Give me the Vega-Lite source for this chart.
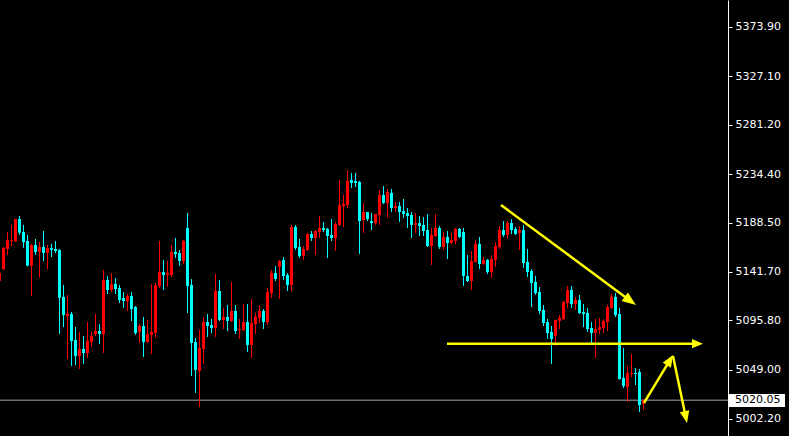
{
  "$schema": "https://vega.github.io/schema/vega-lite/v6.json",
  "width": 728,
  "height": 436,
  "autosize": "none",
  "padding": {"left": 0, "top": 0, "right": 61, "bottom": 0},
  "background": "#000000",
  "config": {"view": {"stroke": null}},
  "datasets": {
    "candles": [
      {"i":-1,"o":5133.1,"h":5143.5,"l":5130.2,"c":5140.6},
      {"i":0,"o":5144.2,"h":5165.3,"l":5143.5,"c":5164.6},
      {"i":1,"o":5163.4,"h":5179.5,"l":5157.7,"c":5171.9},
      {"i":2,"o":5171.0,"h":5186.2,"l":5166.2,"c":5171.9},
      {"i":3,"o":5171.0,"h":5191.8,"l":5170.0,"c":5191.8},
      {"i":4,"o":5191.8,"h":5194.7,"l":5176.7,"c":5178.9},
      {"i":5,"o":5179.5,"h":5186.2,"l":5164.6,"c":5170.0},
      {"i":6,"o":5171.0,"h":5176.7,"l":5147.0,"c":5147.6},
      {"i":7,"o":5147.6,"h":5168.1,"l":5118.8,"c":5167.2},
      {"i":8,"o":5167.2,"h":5172.9,"l":5157.7,"c":5160.6},
      {"i":9,"o":5160.6,"h":5170.0,"l":5136.2,"c":5165.3},
      {"i":10,"o":5165.3,"h":5180.5,"l":5152.0,"c":5159.6},
      {"i":11,"o":5159.6,"h":5167.2,"l":5144.4,"c":5164.3},
      {"i":12,"o":5164.3,"h":5168.1,"l":5155.8,"c":5162.5},
      {"i":13,"o":5163.4,"h":5171.0,"l":5159.6,"c":5161.5},
      {"i":14,"o":5162.5,"h":5163.4,"l":5082.8,"c":5117.2},
      {"i":15,"o":5117.9,"h":5129.3,"l":5089.4,"c":5100.8},
      {"i":16,"o":5099.9,"h":5119.8,"l":5059.1,"c":5101.8},
      {"i":17,"o":5101.8,"h":5103.7,"l":5052.5,"c":5076.2},
      {"i":18,"o":5077.1,"h":5089.4,"l":5053.4,"c":5061.9},
      {"i":19,"o":5061.9,"h":5084.7,"l":5049.6,"c":5068.6},
      {"i":20,"o":5068.6,"h":5080.9,"l":5054.4,"c":5064.8},
      {"i":21,"o":5064.8,"h":5094.2,"l":5060.0,"c":5076.2},
      {"i":22,"o":5075.2,"h":5084.7,"l":5070.5,"c":5080.9},
      {"i":23,"o":5082.8,"h":5101.8,"l":5080.9,"c":5085.6},
      {"i":24,"o":5085.6,"h":5092.3,"l":5073.3,"c":5082.8},
      {"i":25,"o":5082.8,"h":5143.5,"l":5064.8,"c":5134.0},
      {"i":26,"o":5134.0,"h":5137.8,"l":5120.7,"c":5124.5},
      {"i":27,"o":5124.5,"h":5140.6,"l":5122.6,"c":5130.2},
      {"i":28,"o":5130.2,"h":5135.9,"l":5120.7,"c":5125.5},
      {"i":29,"o":5126.4,"h":5129.3,"l":5112.2,"c":5115.0},
      {"i":30,"o":5116.9,"h":5122.6,"l":5107.5,"c":5114.1},
      {"i":31,"o":5114.1,"h":5120.7,"l":5104.6,"c":5118.8},
      {"i":32,"o":5118.8,"h":5122.6,"l":5095.1,"c":5106.5},
      {"i":33,"o":5108.4,"h":5109.3,"l":5081.9,"c":5083.7},
      {"i":34,"o":5084.7,"h":5092.3,"l":5074.3,"c":5090.4},
      {"i":35,"o":5090.4,"h":5098.9,"l":5061.0,"c":5075.2},
      {"i":36,"o":5075.2,"h":5096.1,"l":5074.3,"c":5082.8},
      {"i":37,"o":5081.9,"h":5130.2,"l":5063.8,"c":5084.7},
      {"i":38,"o":5083.7,"h":5131.2,"l":5079.0,"c":5129.3},
      {"i":39,"o":5128.3,"h":5171.0,"l":5126.4,"c":5141.6},
      {"i":40,"o":5141.6,"h":5153.0,"l":5124.5,"c":5138.7},
      {"i":41,"o":5138.7,"h":5152.0,"l":5127.4,"c":5140.6},
      {"i":42,"o":5138.7,"h":5167.2,"l":5136.8,"c":5160.6},
      {"i":43,"o":5160.6,"h":5173.8,"l":5154.9,"c":5158.7},
      {"i":44,"o":5159.6,"h":5162.5,"l":5147.3,"c":5152.0},
      {"i":45,"o":5152.0,"h":5171.9,"l":5149.2,"c":5171.0},
      {"i":46,"o":5183.3,"h":5197.5,"l":5102.7,"c":5128.3},
      {"i":47,"o":5129.3,"h":5134.9,"l":5043.0,"c":5074.3},
      {"i":48,"o":5075.2,"h":5079.0,"l":5026.9,"c":5048.7},
      {"i":49,"o":5047.7,"h":5086.6,"l":5013.6,"c":5069.5},
      {"i":50,"o":5068.6,"h":5098.9,"l":5054.4,"c":5094.2},
      {"i":51,"o":5094.2,"h":5101.8,"l":5080.0,"c":5090.4},
      {"i":52,"o":5091.3,"h":5097.0,"l":5083.7,"c":5088.5},
      {"i":53,"o":5088.5,"h":5139.7,"l":5080.0,"c":5123.6},
      {"i":54,"o":5123.6,"h":5134.0,"l":5095.1,"c":5096.1},
      {"i":55,"o":5096.1,"h":5107.5,"l":5087.5,"c":5098.9},
      {"i":56,"o":5098.9,"h":5110.3,"l":5085.6,"c":5095.1},
      {"i":57,"o":5095.1,"h":5132.1,"l":5094.2,"c":5104.6},
      {"i":58,"o":5104.6,"h":5110.3,"l":5082.8,"c":5085.6},
      {"i":59,"o":5086.6,"h":5097.0,"l":5078.1,"c":5087.6},
      {"i":60,"o":5086.6,"h":5111.2,"l":5086.0,"c":5094.2},
      {"i":61,"o":5094.2,"h":5111.2,"l":5065.7,"c":5072.4},
      {"i":62,"o":5072.4,"h":5116.0,"l":5060.0,"c":5093.2},
      {"i":63,"o":5092.3,"h":5102.7,"l":5082.8,"c":5098.9},
      {"i":64,"o":5098.0,"h":5110.3,"l":5093.2,"c":5104.6},
      {"i":65,"o":5104.6,"h":5106.5,"l":5087.5,"c":5094.2},
      {"i":66,"o":5094.2,"h":5126.4,"l":5091.3,"c":5122.6},
      {"i":67,"o":5121.7,"h":5143.5,"l":5116.9,"c":5140.6},
      {"i":68,"o":5140.6,"h":5147.3,"l":5133.1,"c":5135.0},
      {"i":69,"o":5146.3,"h":5153.0,"l":5116.0,"c":5152.0},
      {"i":70,"o":5153.0,"h":5155.8,"l":5134.0,"c":5137.8},
      {"i":71,"o":5138.7,"h":5140.6,"l":5123.6,"c":5129.3},
      {"i":72,"o":5129.3,"h":5186.2,"l":5123.6,"c":5184.3},
      {"i":73,"o":5184.3,"h":5186.2,"l":5162.5,"c":5164.3},
      {"i":74,"o":5165.3,"h":5172.9,"l":5154.9,"c":5156.8},
      {"i":75,"o":5156.8,"h":5166.2,"l":5153.0,"c":5163.4},
      {"i":76,"o":5162.5,"h":5178.6,"l":5161.5,"c":5177.6},
      {"i":77,"o":5177.6,"h":5180.5,"l":5171.0,"c":5173.8},
      {"i":78,"o":5173.8,"h":5181.4,"l":5157.7,"c":5180.5},
      {"i":79,"o":5179.5,"h":5194.7,"l":5173.8,"c":5183.3},
      {"i":80,"o":5183.3,"h":5189.0,"l":5179.5,"c":5181.4},
      {"i":81,"o":5182.4,"h":5183.3,"l":5154.9,"c":5175.7},
      {"i":82,"o":5176.7,"h":5191.8,"l":5171.0,"c":5173.8},
      {"i":83,"o":5173.8,"h":5189.0,"l":5161.5,"c":5187.1},
      {"i":84,"o":5186.2,"h":5228.8,"l":5185.2,"c":5205.1},
      {"i":85,"o":5204.2,"h":5214.6,"l":5184.3,"c":5206.1},
      {"i":86,"o":5205.1,"h":5238.3,"l":5202.3,"c":5227.9},
      {"i":87,"o":5228.8,"h":5235.5,"l":5221.2,"c":5226.0},
      {"i":88,"o":5227.9,"h":5235.5,"l":5222.2,"c":5226.0},
      {"i":89,"o":5226.9,"h":5227.9,"l":5158.7,"c":5189.9},
      {"i":90,"o":5190.9,"h":5207.0,"l":5178.6,"c":5198.5},
      {"i":91,"o":5198.5,"h":5198.5,"l":5189.9,"c":5191.8},
      {"i":92,"o":5189.9,"h":5197.5,"l":5181.4,"c":5188.0},
      {"i":93,"o":5188.0,"h":5196.6,"l":5186.2,"c":5196.6},
      {"i":94,"o":5195.6,"h":5219.3,"l":5186.2,"c":5214.6},
      {"i":95,"o":5214.6,"h":5223.1,"l":5206.1,"c":5207.0},
      {"i":96,"o":5207.0,"h":5220.3,"l":5192.8,"c":5217.4},
      {"i":97,"o":5216.5,"h":5220.3,"l":5198.5,"c":5202.3},
      {"i":98,"o":5202.3,"h":5208.0,"l":5198.5,"c":5204.2},
      {"i":99,"o":5204.2,"h":5208.0,"l":5189.0,"c":5198.5},
      {"i":100,"o":5199.4,"h":5210.8,"l":5192.8,"c":5196.6},
      {"i":101,"o":5197.5,"h":5202.3,"l":5183.3,"c":5194.7},
      {"i":102,"o":5195.6,"h":5198.5,"l":5173.8,"c":5186.2},
      {"i":103,"o":5186.2,"h":5197.5,"l":5178.6,"c":5188.0},
      {"i":104,"o":5188.0,"h":5194.7,"l":5175.7,"c":5185.2},
      {"i":105,"o":5186.2,"h":5193.7,"l":5175.7,"c":5180.5},
      {"i":106,"o":5181.4,"h":5196.6,"l":5165.3,"c":5166.2},
      {"i":107,"o":5166.2,"h":5183.3,"l":5148.2,"c":5176.7},
      {"i":108,"o":5175.7,"h":5196.6,"l":5174.8,"c":5183.3},
      {"i":109,"o":5183.3,"h":5185.2,"l":5163.4,"c":5165.3},
      {"i":110,"o":5165.3,"h":5179.5,"l":5162.5,"c":5174.8},
      {"i":111,"o":5174.8,"h":5180.5,"l":5153.9,"c":5169.1},
      {"i":112,"o":5169.1,"h":5178.6,"l":5168.1,"c":5171.9},
      {"i":113,"o":5171.0,"h":5183.3,"l":5168.1,"c":5182.4},
      {"i":114,"o":5182.4,"h":5183.3,"l":5173.8,"c":5174.8},
      {"i":115,"o":5179.5,"h":5183.3,"l":5128.3,"c":5137.8},
      {"i":116,"o":5137.8,"h":5157.7,"l":5132.1,"c":5133.1},
      {"i":117,"o":5133.1,"h":5161.5,"l":5124.5,"c":5152.0},
      {"i":118,"o":5151.1,"h":5171.9,"l":5150.5,"c":5168.1},
      {"i":119,"o":5168.1,"h":5174.8,"l":5144.4,"c":5149.2},
      {"i":120,"o":5149.2,"h":5155.8,"l":5148.2,"c":5153.0},
      {"i":121,"o":5153.0,"h":5153.9,"l":5139.7,"c":5141.6},
      {"i":122,"o":5141.6,"h":5157.7,"l":5135.9,"c":5153.9},
      {"i":123,"o":5153.0,"h":5170.0,"l":5146.3,"c":5166.2},
      {"i":124,"o":5165.3,"h":5185.2,"l":5163.4,"c":5181.4},
      {"i":125,"o":5181.4,"h":5189.9,"l":5174.8,"c":5176.7},
      {"i":126,"o":5176.7,"h":5189.9,"l":5172.9,"c":5188.0},
      {"i":127,"o":5188.0,"h":5191.8,"l":5177.6,"c":5181.4},
      {"i":128,"o":5182.4,"h":5184.3,"l":5176.7,"c":5177.6},
      {"i":129,"o":5178.6,"h":5185.2,"l":5162.5,"c":5181.4},
      {"i":130,"o":5181.4,"h":5186.2,"l":5145.4,"c":5150.1},
      {"i":131,"o":5151.1,"h":5163.4,"l":5136.8,"c":5141.6},
      {"i":132,"o":5142.5,"h":5144.4,"l":5108.4,"c":5131.2},
      {"i":133,"o":5132.1,"h":5137.8,"l":5119.8,"c":5121.7},
      {"i":134,"o":5122.6,"h":5127.4,"l":5101.8,"c":5104.6},
      {"i":135,"o":5105.6,"h":5110.3,"l":5090.4,"c":5093.2},
      {"i":136,"o":5094.2,"h":5097.0,"l":5078.1,"c":5083.7},
      {"i":137,"o":5084.7,"h":5090.4,"l":5054.4,"c":5078.1},
      {"i":138,"o":5080.9,"h":5096.1,"l":5071.4,"c":5096.1},
      {"i":139,"o":5095.1,"h":5100.8,"l":5087.5,"c":5098.0},
      {"i":140,"o":5097.0,"h":5114.1,"l":5096.1,"c":5113.1},
      {"i":141,"o":5112.2,"h":5128.3,"l":5107.5,"c":5124.5},
      {"i":142,"o":5124.5,"h":5128.3,"l":5107.5,"c":5111.2},
      {"i":143,"o":5111.2,"h":5117.9,"l":5105.6,"c":5115.0},
      {"i":144,"o":5115.0,"h":5119.8,"l":5101.8,"c":5102.7},
      {"i":145,"o":5103.7,"h":5111.2,"l":5089.4,"c":5101.8},
      {"i":146,"o":5102.7,"h":5107.5,"l":5084.7,"c":5087.5},
      {"i":147,"o":5088.5,"h":5094.2,"l":5072.4,"c":5083.7},
      {"i":148,"o":5083.7,"h":5097.0,"l":5060.0,"c":5087.5},
      {"i":149,"o":5086.6,"h":5098.0,"l":5082.8,"c":5089.4},
      {"i":150,"o":5088.5,"h":5097.0,"l":5083.7,"c":5095.1},
      {"i":151,"o":5094.2,"h":5110.3,"l":5085.6,"c":5108.4},
      {"i":152,"o":5107.5,"h":5120.7,"l":5106.5,"c":5117.9},
      {"i":153,"o":5117.9,"h":5121.7,"l":5098.9,"c":5100.8},
      {"i":154,"o":5101.8,"h":5107.5,"l":5039.5,"c":5040.1},
      {"i":155,"o":5041.1,"h":5069.5,"l":5031.6,"c":5033.5},
      {"i":156,"o":5032.5,"h":5052.5,"l":5018.3,"c":5045.8},
      {"i":157,"o":5044.9,"h":5063.8,"l":5042.0,"c":5045.8},
      {"i":158,"o":5045.8,"h":5050.6,"l":5034.4,"c":5044.9},
      {"i":159,"o":5046.8,"h":5049.6,"l":5008.8,"c":5015.5},
      {"i":160,"o":5016.5,"h":5021.0,"l":5010.7,"c":5020.05}
    ],
    "arrows": [
      {"id":"a1","i1":124.375,"p1":5205.1,"i2":156.5,"p2":5114.9,"it":158.125,"pt":5110.3},
      {"id":"a2","i1":110.875,"p1":5073.6,"i2":172.9,"p2":5073.6,"it":174.875,"pt":5073.6},
      {"id":"a3","i1":160.125,"p1":5017.4,"i2":166.35,"p2":5056.4,"it":167.375,"pt":5062.9},
      {"id":"a4","i1":167.375,"p1":5061.9,"i2":170.47,"p2":5005.8,"it":170.875,"pt":4998.4}
    ],
    "last": [{"price": 5020.05, "label": "5020.05"}]
  },
  "layer": [
    {
      "data": {"name": "last"},
      "mark": {"type": "rule", "color": "#a3abb3", "strokeWidth": 1},
      "encoding": {
        "y": {"field": "price", "type": "quantitative",
          "scale": {"domain": [4986.08, 5399.5], "nice": false, "zero": false, "padding": 0},
          "axis": {
            "orient": "right",
            "values": [5373.9, 5327.1, 5281.2, 5234.4, 5188.5, 5141.7, 5095.8, 5049.0, 5002.2],
            "format": ".2f",
            "title": null,
            "grid": false,
            "domainColor": "#ffffff",
            "tickColor": "#ffffff",
            "tickSize": 4,
            "labelColor": "#ffffff",
            "labelFont": "DejaVu Sans",
            "labelFontSize": 11,
            "labelPadding": 3
          }
        }
      }
    },
    {
      "data": {"name": "candles"},
      "mark": {"type": "rule", "strokeWidth": 1},
      "encoding": {
        "x": {"field": "i", "type": "quantitative", "scale": {"domain": [-0.875, 181.125], "nice": false, "zero": false, "padding": 0}, "axis": null},
        "y": {"field": "l", "type": "quantitative"},
        "y2": {"field": "h"},
        "color": {"condition": {"test": "datum.c > datum.o", "value": "#ff0000"}, "value": "#00ffff"}
      }
    },
    {
      "data": {"name": "candles"},
      "mark": {"type": "bar", "size": 3},
      "encoding": {
        "x": {"field": "i", "type": "quantitative"},
        "y": {"field": "o", "type": "quantitative"},
        "y2": {"field": "c"},
        "color": {"condition": {"test": "datum.c > datum.o", "value": "#ff0000"}, "value": "#00ffff"}
      }
    },
    {
      "data": {"name": "arrows"},
      "mark": {"type": "rule", "color": "#ffff00", "strokeWidth": 2.5},
      "encoding": {
        "x": {"field": "i1", "type": "quantitative"},
        "x2": {"field": "i2"},
        "y": {"field": "p1", "type": "quantitative"},
        "y2": {"field": "p2"}
      }
    },
    {
      "data": {"name": "arrows"},
      "transform": [{"filter": "datum.id == 'a1'"}],
      "mark": {"type": "point", "shape": "M0,0L0.75,2L-0.75,2Z", "size": 196, "angle": 126.5, "filled": true, "opacity": 1, "color": "#ffff00", "strokeWidth": 0},
      "encoding": {"x": {"field": "it", "type": "quantitative"}, "y": {"field": "pt", "type": "quantitative"}}
    },
    {
      "data": {"name": "arrows"},
      "transform": [{"filter": "datum.id == 'a2'"}],
      "mark": {"type": "point", "shape": "M0,0L0.85,2L-0.85,2Z", "size": 121, "angle": 90, "filled": true, "opacity": 1, "color": "#ffff00", "strokeWidth": 0},
      "encoding": {"x": {"field": "it", "type": "quantitative"}, "y": {"field": "pt", "type": "quantitative"}}
    },
    {
      "data": {"name": "arrows"},
      "transform": [{"filter": "datum.id == 'a3'"}],
      "mark": {"type": "point", "shape": "M0,0L0.8,2L-0.8,2Z", "size": 144, "angle": 31.1, "filled": true, "opacity": 1, "color": "#ffff00", "strokeWidth": 0},
      "encoding": {"x": {"field": "it", "type": "quantitative"}, "y": {"field": "pt", "type": "quantitative"}}
    },
    {
      "data": {"name": "arrows"},
      "transform": [{"filter": "datum.id == 'a4'"}],
      "mark": {"type": "point", "shape": "M0,0L0.8,2L-0.8,2Z", "size": 144, "angle": 168.2, "filled": true, "opacity": 1, "color": "#ffff00", "strokeWidth": 0},
      "encoding": {"x": {"field": "it", "type": "quantitative"}, "y": {"field": "pt", "type": "quantitative"}}
    },
    {
      "data": {"name": "last"},
      "mark": {"type": "rect", "color": "#ffffff"},
      "encoding": {
        "x": {"datum": 181.375, "type": "quantitative"},
        "x2": {"datum": 195.375},
        "y": {"datum": 5025.9, "type": "quantitative"},
        "y2": {"datum": 5013.6}
      }
    },
    {
      "data": {"name": "last"},
      "mark": {"type": "text", "color": "#000000", "font": "DejaVu Sans", "fontSize": 11, "align": "left", "baseline": "middle"},
      "encoding": {
        "x": {"datum": 182.875, "type": "quantitative"},
        "y": {"field": "price", "type": "quantitative"},
        "text": {"field": "label"}
      }
    }
  ]
}
